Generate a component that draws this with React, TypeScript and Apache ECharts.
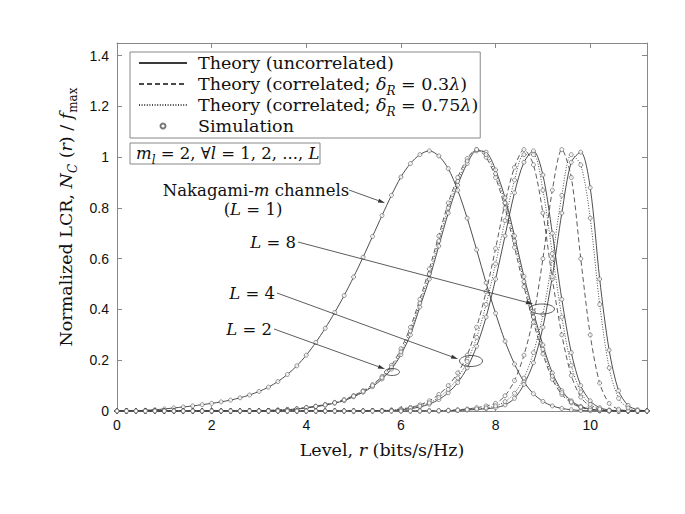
import React, { useEffect, useRef } from 'react';
import * as echarts from 'echarts';

// Level grid r (bits/s/Hz)
const levels = [
  0, 0.2, 0.4, 0.6, 0.8, 1.0, 1.2, 1.4, 1.6, 1.8,
  2.0, 2.2, 2.4, 2.6, 2.8, 3.0, 3.2, 3.4, 3.6, 3.8,
  4.0, 4.2, 4.4, 4.6, 4.8, 5.0, 5.2, 5.4, 5.6, 5.8,
  6.0, 6.2, 6.4, 6.6, 6.8, 7.0, 7.2, 7.4, 7.6, 7.8,
  8.0, 8.2, 8.4, 8.6, 8.8, 9.0, 9.2, 9.4, 9.6, 9.8,
  10.0, 10.2, 10.4, 10.6, 10.8, 11.0, 11.2,
];

// L = 1 (Nakagami-m)
const lcrL1 = [
  0, 0.0005, 0.001, 0.003, 0.005, 0.008, 0.012, 0.016, 0.02, 0.025,
  0.03, 0.036, 0.043, 0.052, 0.063, 0.077, 0.094, 0.116, 0.144, 0.178,
  0.22, 0.27, 0.326, 0.388, 0.455, 0.528, 0.606, 0.688, 0.77, 0.85,
  0.922, 0.975, 1.01, 1.025, 1.005, 0.955, 0.87, 0.76, 0.635, 0.505,
  0.385, 0.275, 0.185, 0.115, 0.068, 0.038, 0.02, 0.01, 0.005, 0.002,
  0.001, 0, 0, 0, 0, 0, 0,
];

// L = 2
const lcrL2Uncorr = [
  0, 0, 0, 0, 0, 0, 0, 0, 0, 0,
  0, 0, 0, 0, 0, 0.001, 0.002, 0.003, 0.005, 0.008,
  0.012, 0.017, 0.023, 0.031, 0.041, 0.056, 0.074, 0.096, 0.126, 0.165,
  0.222, 0.3, 0.41, 0.52, 0.65, 0.78, 0.89, 0.975, 1.025, 1.02,
  0.95, 0.84, 0.69, 0.53, 0.39, 0.26, 0.15, 0.08, 0.04, 0.018,
  0.008, 0.003, 0.001, 0, 0, 0, 0,
];
const lcrL2Corr03 = [
  0, 0, 0, 0, 0, 0, 0, 0, 0, 0,
  0, 0, 0, 0, 0, 0.001, 0.002, 0.004, 0.006, 0.009,
  0.014, 0.019, 0.026, 0.034, 0.045, 0.061, 0.08, 0.104, 0.136, 0.18,
  0.245, 0.33, 0.44, 0.56, 0.69, 0.82, 0.92, 0.995, 1.03, 1.0,
  0.92, 0.8, 0.645, 0.49, 0.35, 0.225, 0.125, 0.065, 0.032, 0.014,
  0.006, 0.002, 0.001, 0, 0, 0, 0,
];
const lcrL2Corr075 = [
  0, 0, 0, 0, 0, 0, 0, 0, 0, 0,
  0, 0, 0, 0, 0, 0.001, 0.002, 0.003, 0.005, 0.008,
  0.013, 0.018, 0.024, 0.032, 0.043, 0.058, 0.077, 0.1, 0.131, 0.172,
  0.233, 0.315, 0.425, 0.54, 0.67, 0.8, 0.905, 0.985, 1.03, 1.01,
  0.935, 0.82, 0.67, 0.51, 0.37, 0.243, 0.137, 0.072, 0.036, 0.016,
  0.007, 0.0025, 0.001, 0, 0, 0, 0,
];

// L = 4
const lcrL4Uncorr = [
  0, 0, 0, 0, 0, 0, 0, 0, 0, 0,
  0, 0, 0, 0, 0, 0, 0, 0, 0, 0,
  0, 0, 0, 0, 0, 0, 0, 0.001, 0.001, 0.002,
  0.005, 0.009, 0.016, 0.027, 0.045, 0.072, 0.112, 0.17, 0.255, 0.37,
  0.52, 0.69, 0.86, 0.98, 1.025, 0.93, 0.7, 0.44, 0.23, 0.1,
  0.04, 0.013, 0.004, 0.001, 0, 0, 0,
];
const lcrL4Corr03 = [
  0, 0, 0, 0, 0, 0, 0, 0, 0, 0,
  0, 0, 0, 0, 0, 0, 0, 0, 0, 0,
  0, 0, 0, 0, 0, 0, 0.001, 0.001, 0.002, 0.004,
  0.008, 0.014, 0.024, 0.04, 0.065, 0.1, 0.15, 0.22, 0.33, 0.47,
  0.64, 0.82, 0.96, 1.03, 0.97, 0.78, 0.52, 0.3, 0.14, 0.055,
  0.018, 0.005, 0.001, 0, 0, 0, 0,
];
const lcrL4Corr075 = [
  0, 0, 0, 0, 0, 0, 0, 0, 0, 0,
  0, 0, 0, 0, 0, 0, 0, 0, 0, 0,
  0, 0, 0, 0, 0, 0, 0, 0.001, 0.002, 0.003,
  0.006, 0.011, 0.019, 0.032, 0.053, 0.085, 0.13, 0.195, 0.29, 0.42,
  0.58, 0.75, 0.91, 1.01, 1.01, 0.87, 0.62, 0.37, 0.18, 0.075,
  0.026, 0.008, 0.002, 0, 0, 0, 0,
];

// L = 8
const lcrL8Uncorr = [
  0, 0, 0, 0, 0, 0, 0, 0, 0, 0,
  0, 0, 0, 0, 0, 0, 0, 0, 0, 0,
  0, 0, 0, 0, 0, 0, 0, 0, 0, 0,
  0, 0, 0, 0, 0, 0.001, 0.002, 0.004, 0.006, 0.009,
  0.013, 0.024, 0.05, 0.105, 0.19, 0.33, 0.53, 0.78, 0.98, 1.02,
  0.88, 0.52, 0.24, 0.08, 0.022, 0.005, 0.001,
];
const lcrL8Corr03 = [
  0, 0, 0, 0, 0, 0, 0, 0, 0, 0,
  0, 0, 0, 0, 0, 0, 0, 0, 0, 0,
  0, 0, 0, 0, 0, 0, 0, 0, 0, 0,
  0, 0, 0, 0.001, 0.001, 0.003, 0.005, 0.008, 0.013, 0.02,
  0.03, 0.06, 0.12, 0.22, 0.37, 0.6, 0.87, 1.03, 0.92, 0.6,
  0.3, 0.11, 0.03, 0.007, 0.001, 0, 0,
];
const lcrL8Corr075 = [
  0, 0, 0, 0, 0, 0, 0, 0, 0, 0,
  0, 0, 0, 0, 0, 0, 0, 0, 0, 0,
  0, 0, 0, 0, 0, 0, 0, 0, 0, 0,
  0, 0, 0, 0, 0.001, 0.002, 0.003, 0.005, 0.008, 0.012,
  0.02, 0.037, 0.07, 0.13, 0.23, 0.38, 0.6, 0.85, 1.01, 0.97,
  0.76, 0.42, 0.17, 0.05, 0.012, 0.002, 0,
];

const xTickLabels = ['0', '2', '4', '6', '8', '10'];
const yTickLabels = ['0', '0.2', '0.4', '0.6', '0.8', '1', '1.2', '1.4'];

const NAME_UNC = 'Theory (uncorrelated)';
const NAME_C03 = 'Theory (correlated; δR = 0.3λ)';
const NAME_C075 = 'Theory (correlated; δR = 0.75λ)';
const NAME_SIM = 'Simulation';

const SERIF = 'DejaVu Serif';
const SANS = 'Liberation Sans';
const LH = 26;

const curves: { name: string; vals: number[] }[] = [
  { name: NAME_UNC, vals: lcrL1 },
  { name: NAME_UNC, vals: lcrL2Uncorr },
  { name: NAME_C03, vals: lcrL2Corr03 },
  { name: NAME_C075, vals: lcrL2Corr075 },
  { name: NAME_UNC, vals: lcrL4Uncorr },
  { name: NAME_C03, vals: lcrL4Corr03 },
  { name: NAME_C075, vals: lcrL4Corr075 },
  { name: NAME_UNC, vals: lcrL8Uncorr },
  { name: NAME_C03, vals: lcrL8Corr03 },
  { name: NAME_C075, vals: lcrL8Corr075 },
];

const lineStyles: Record<string, any> = {
  [NAME_UNC]: { color: '#3a3a3a', width: 0.9, type: 'solid' },
  [NAME_C03]: { color: '#4a4a4a', width: 0.9, type: [5, 3] },
  [NAME_C075]: { color: '#4a4a4a', width: 1, type: [1, 1.6] },
};

function makeRich(fs: number) {
  const sfs = Math.round(fs * 0.7);
  return {
    n: { fontFamily: SERIF, fontSize: fs, color: '#111', lineHeight: LH },
    i: { fontFamily: SERIF, fontSize: fs, fontStyle: 'italic', color: '#111', lineHeight: LH },
    sub: { fontFamily: SERIF, fontSize: sfs, fontStyle: 'italic', color: '#111', verticalAlign: 'bottom' },
    subr: { fontFamily: SERIF, fontSize: sfs, color: '#111', verticalAlign: 'bottom' },
  };
}

const richLegend = makeRich(17.5);
const richAxis = makeRich(17.5);
const richNote = makeRich(16.5);

function arrow(x1: number, y1: number, x2: number, y2: number) {
  const ang = Math.atan2(y2 - y1, x2 - x1);
  const L = 7;
  const W = 2;
  const bx = x2 - L * Math.cos(ang);
  const by = y2 - L * Math.sin(ang);
  const px = -Math.sin(ang) * W;
  const py = Math.cos(ang) * W;
  return [
    { type: 'line', z: 100, shape: { x1, y1, x2: bx, y2: by }, style: { stroke: '#333', lineWidth: 0.8 } },
    {
      type: 'polygon', z: 100,
      shape: { points: [[x2, y2], [bx + px, by + py], [bx - px, by - py]] },
      style: { fill: '#333' },
    },
  ];
}

function label(text: string, x: number, y: number, align: string) {
  return {
    type: 'text', z: 100, x, y,
    style: {
      text, fill: '#111', fontFamily: SERIF, fontSize: 16.5, lineHeight: LH,
      align, verticalAlign: 'middle', rich: richNote,
    },
  };
}

export default function App() {
  const ref = useRef<HTMLDivElement>(null);
  useEffect(() => {
    if (!ref.current) return;
    const chart = echarts.init(ref.current, undefined, { renderer: 'svg' });

    const lineSeries = curves.map((c) => ({
      name: c.name,
      type: 'line',
      xAxisIndex: 0,
      yAxisIndex: 0,
      data: levels.map((x, i) => [x, c.vals[i]]),
      symbol: 'none',
      smooth: 0.3,
      lineStyle: lineStyles[c.name],
      z: 2,
    }));

    const simData: number[][] = [];
    curves.forEach((c) => levels.forEach((x, i) => simData.push([x, c.vals[i]])));

    const axisLabelStyle = { fontFamily: SANS, fontSize: 14, color: '#111' };

    const option: any = {
      animation: false,
      backgroundColor: '#fff',
      textStyle: { fontFamily: SERIF },
      grid: { left: 117, top: 43, right: 38, bottom: 103, containLabel: false },
      legend: {
        orient: 'vertical',
        left: 130,
        top: 52,
        data: [
          { name: NAME_UNC, itemStyle: { opacity: 0 } },
          { name: NAME_C03, itemStyle: { opacity: 0 } },
          { name: NAME_C075, itemStyle: { opacity: 0 } },
          { name: NAME_SIM },
        ],
        itemWidth: 48,
        itemHeight: 5,
        itemGap: -5,
        padding: [-2, 2, -1, 8],
        borderColor: '#888',
        borderWidth: 1,
        backgroundColor: '#fff',
        selectedMode: false,
        z: 50,
        textStyle: {
          fontFamily: SERIF, fontSize: 17.5, color: '#111', lineHeight: LH,
          padding: [0, 0, 0, 6], rich: richLegend,
        },
        formatter: (name: string) => {
          if (name === NAME_C03) return '{n|Theory (correlated; }{i|δ}{sub|R}{n| = 0.3}{i|λ}{n|)}';
          if (name === NAME_C075) return '{n|Theory (correlated; }{i|δ}{sub|R}{n| = 0.75}{i|λ}{n|)}';
          return '{n|' + name + '}';
        },
      },
      xAxis: [
        {
          type: 'value', min: 0, max: 11.2, interval: 2,
          position: 'bottom',
          name: '{n|Level, }{i|r}{n| (bits/s/Hz)}',
          nameLocation: 'middle', nameGap: 23,
          nameTextStyle: { fontFamily: SERIF, fontSize: 17.5, color: '#111', lineHeight: LH, rich: richAxis },
          axisLine: { onZero: false, lineStyle: { color: '#888', width: 1 } },
          axisTick: { inside: true, length: 5, lineStyle: { color: '#888' } },
          axisLabel: {
            ...axisLabelStyle, margin: 7, showMaxLabel: false,
            formatter: (v: number) => {
              const k = Math.round(v / 2);
              return Math.abs(v - k * 2) < 1e-6 && k < xTickLabels.length ? xTickLabels[k] : '';
            },
          },
          splitLine: { show: false },
        },
        {
          type: 'value', min: 0, max: 11.2, interval: 2,
          position: 'top',
          axisLine: { onZero: false, lineStyle: { color: '#888', width: 1 } },
          axisTick: { inside: true, length: 5, lineStyle: { color: '#888' } },
          axisLabel: { show: false },
          splitLine: { show: false },
        },
      ],
      yAxis: [
        {
          type: 'value', min: 0, max: 1.45, interval: 0.2,
          position: 'left',
          name: '{n|Normalized LCR, }{i|N}{sub|C}{n| (}{i|r}{n|) / }{i|f}{subr|max}',
          nameLocation: 'middle', nameGap: 36, nameRotate: 90,
          nameTextStyle: {
            fontFamily: SERIF, fontSize: 17.5, color: '#111', lineHeight: LH, rich: richAxis,
            padding: [0, 0, 0, 20],
          },
          axisLine: { onZero: false, lineStyle: { color: '#888', width: 1 } },
          axisTick: { inside: true, length: 5, lineStyle: { color: '#888' } },
          axisLabel: {
            ...axisLabelStyle, margin: 8, showMaxLabel: false,
            formatter: (v: number) => {
              const k = Math.round(v / 0.2);
              return Math.abs(v - k * 0.2) < 1e-6 && k < yTickLabels.length ? yTickLabels[k] : '';
            },
          },
          splitLine: { show: false },
        },
        {
          type: 'value', min: 0, max: 1.45, interval: 0.2,
          position: 'right',
          axisLine: { onZero: false, lineStyle: { color: '#888', width: 1 } },
          axisTick: { inside: true, length: 5, lineStyle: { color: '#888' } },
          axisLabel: { show: false },
          splitLine: { show: false },
        },
      ],
      series: [
        ...lineSeries,
        {
          name: NAME_SIM,
          type: 'scatter',
          xAxisIndex: 0,
          yAxisIndex: 0,
          data: simData,
          symbol: 'circle',
          symbolSize: 4,
          itemStyle: { color: '#fff', borderColor: '#555', borderWidth: 0.8 },
          z: 3,
        },
      ],
      graphic: [
        {
          type: 'rect', z: 100,
          shape: { x: 130, y: 143, width: 190, height: 21 },
          style: { fill: '#fff', stroke: '#888', lineWidth: 1 },
        },
        label('{i|m}{sub|l}{n| = 2, ∀}{i|l}{n| = 1, 2, ..., }{i|L}', 136, 153, 'left'),
        label('{n|Nakagami-}{i|m}{n| channels}', 256, 190, 'center'),
        label('{n|(}{i|L}{n| = 1)}', 253, 209, 'center'),
        label('{i|L}{n| = 8}', 296, 242, 'right'),
        label('{i|L}{n| = 4}', 275, 293, 'right'),
        label('{i|L}{n| = 2}', 272, 329, 'right'),
        ...arrow(349, 190, 385, 203),
        ...arrow(298, 242, 533, 304),
        ...arrow(277, 293, 458, 359),
        ...arrow(274, 329, 385, 369),
        {
          type: 'ellipse', z: 100,
          shape: { cx: 542, cy: 309, rx: 12.5, ry: 5 },
          style: { fill: 'none', stroke: '#333', lineWidth: 0.8 },
        },
        {
          type: 'ellipse', z: 100,
          shape: { cx: 471, cy: 361, rx: 11.5, ry: 5.5 },
          style: { fill: 'none', stroke: '#333', lineWidth: 0.8 },
        },
        {
          type: 'ellipse', z: 100,
          shape: { cx: 392, cy: 372, rx: 7.5, ry: 3.5 },
          style: { fill: 'none', stroke: '#333', lineWidth: 0.8 },
        },
      ],
    };

    chart.setOption(option);
    return () => chart.dispose();
  }, []);

  return (
    <div
      ref={ref}
      style={{ position: 'fixed', left: 0, top: 0, width: 685, height: 514, background: '#fff' }}
    />
  );
}
